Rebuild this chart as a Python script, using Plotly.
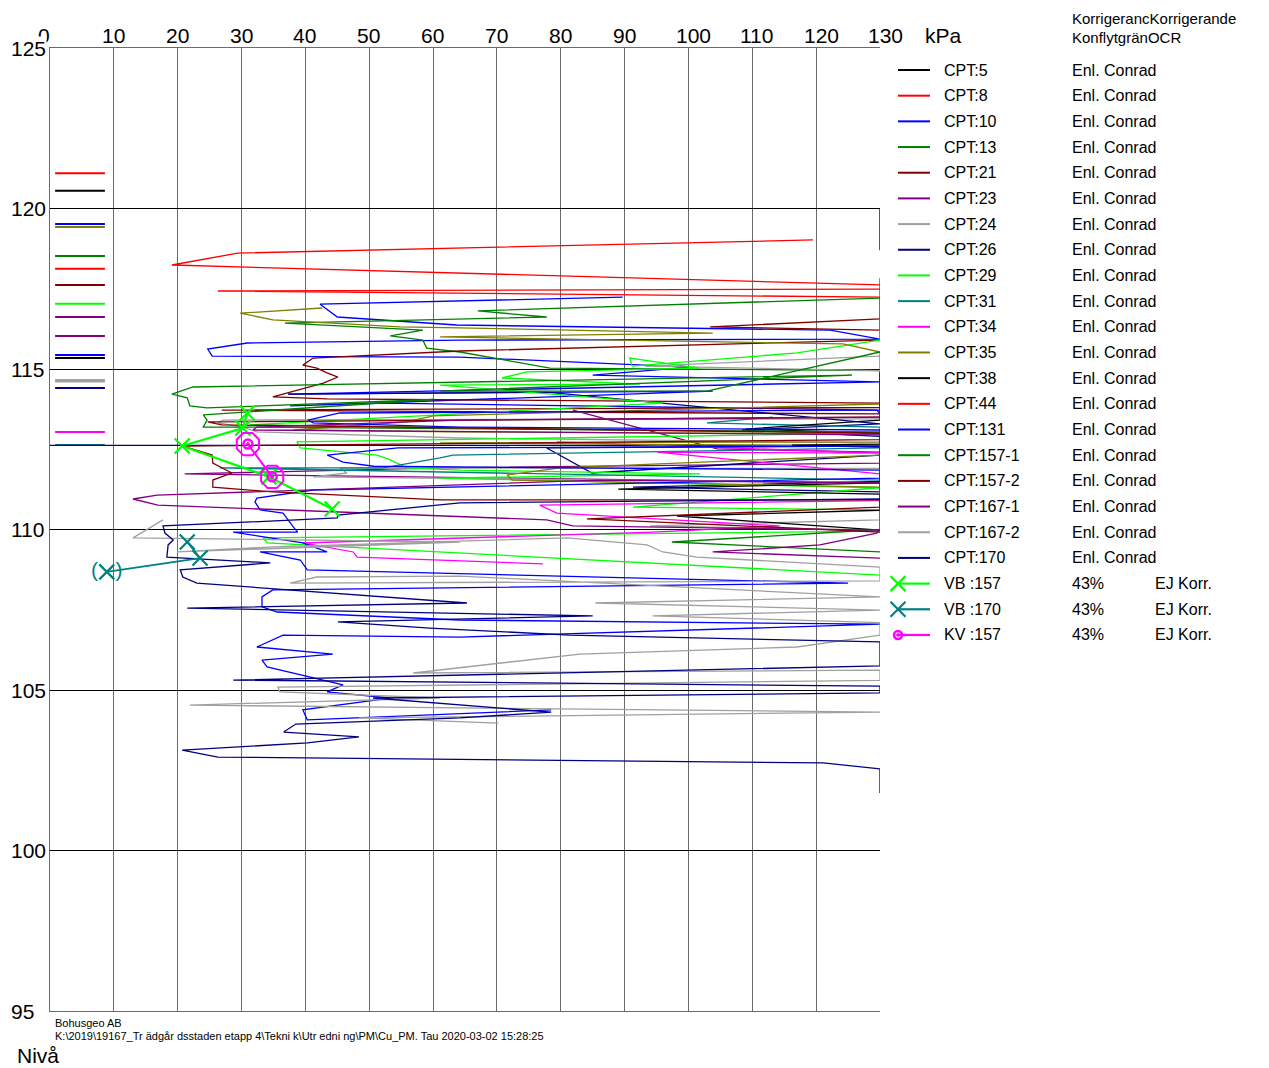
import plotly.graph_objects as go

# ---------------------------------------------------------------
# Figure geometry (pixels)
W, H = 1269, 1068
PLOT_L, PLOT_R, PLOT_T, PLOT_B = 50, 880, 48, 1011
FONT = "Liberation Sans, Arial, sans-serif"

# ---------------------------------------------------------------
# Axes
KPA_TICKS = [0, 10, 20, 30, 40, 50, 60, 70, 80, 90, 100, 110, 120, 130]
NIVA_TICKS = [95, 100, 105, 110, 115, 120, 125]

# ---------------------------------------------------------------
# Colours per sounding
BLACK, RED, BLUE, GREEN = "#000000", "#FF0000", "#0000FF", "#008000"
DKRED, PURPLE, GRAY, NAVY = "#800000", "#800080", "#A0A0A0", "#000080"
LIME, TEAL, MAGENTA, OLIVE = "#00FF00", "#008080", "#FF00FF", "#808000"

# ---------------------------------------------------------------
# Undrained shear strength (kPa) versus level (Nivå), per CPT
cpt5_kpa = [130, 130]
cpt5_niva = [120.0, 118.7]

cpt8_kpa = [119.5, 29.4, 19.1, 130]
cpt8_niva = [119.02, 118.61, 118.24, 117.62]

cpt10_kpa = [89.7, 42.3, 45.0, 63.7, 122.2, 130, 64.2, 30.9, 24.7, 25.4, 64.2, 100.2,
             85.0, 130, 37.3, 103.8, 37.6, 52.2, 129.5, 130]
cpt10_niva = [117.24, 117.02, 116.62, 116.37, 116.21, 115.93, 115.90, 115.81, 115.62,
              115.40, 115.37, 115.06, 114.81, 114.60, 114.22, 114.31, 113.85, 113.94,
              113.72, 113.60]

cpt13_kpa = [130, 130, 67.0, 77.8, 36.8, 58.4, 53.3, 58.4, 59.0, 64.2, 78.3, 130]
cpt13_niva = [117.83, 117.21, 116.81, 116.62, 116.43, 116.21, 116.03, 115.90, 115.65,
              115.53, 115.03, 114.95]

cpt21_kpa = [130, 103.4, 130, 130, 64.2, 41.2, 39.6, 41.8, 43.4, 45.1, 42.8, 34.9, 43.4,
             130, 130, 26.9, 130]
cpt21_niva = [116.56, 116.31, 116.21, 115.90, 115.56, 115.34, 115.12, 115.03, 114.88,
              114.75, 114.56, 114.13, 114.07, 113.94, 113.80, 113.72, 113.60]

cpt23_kpa = [81.9, 104.5, 130, 130, 61.1, 21.1, 130]
cpt23_niva = [113.72, 112.51, 112.41, 112.07, 111.92, 111.73, 111.45]

cpt24_kpa = [130, 93.2, 130, 130, 27.1, 26.3, 28.2, 30.2, 32.4, 64.2, 130, 130, 45.4,
             46.5, 41.2, 130, 130, 94.0, 130]
cpt24_niva = [115.40, 115.09, 114.95, 113.45, 113.41, 113.32, 113.26, 113.19, 113.04,
              112.85, 112.70, 111.90, 111.92, 111.76, 111.64, 111.45, 110.30, 110.11,
              109.98]

cpt26_kpa = [37.3, 64.2, 77.8, 130, 108.4, 130, 130, 77.8, 84.9, 130, 130, 91.3, 130]
cpt26_niva = [114.22, 114.25, 114.28, 113.29, 113.10, 112.90, 112.60, 112.54, 111.76,
              112.32, 111.50, 111.32, 111.17]

cpt29_kpa = [130, 130, 117.0, 91.2, 90.8, 101.8, 74.7, 70.8, 92.4, 61.1, 96.0, 31.3, 130,
             38.7, 39.2, 51.2, 53.3, 55.9, 64.2, 101.8, 61.1, 130, 91.3, 130, 130, 130,
             33.4, 34.0, 130]
cpt29_niva = [117.30, 115.90, 115.50, 115.09, 115.34, 115.03, 114.91, 114.72, 114.53,
              114.50, 113.94, 113.26, 113.00, 112.73, 112.54, 112.32, 112.17, 111.92,
              111.85, 111.73, 111.60, 111.30, 110.70, 110.61, 110.20, 109.95, 109.74,
              109.58, 108.58]

cpt31_kpa = [113.2, 102.9, 130, 130, 63.1, 61.1, 52.2, 26.6, 130, 130]
cpt31_niva = [113.50, 113.32, 113.19, 112.54, 112.32, 112.23, 111.92, 111.92, 111.54,
              111.30]

cpt34_kpa = [79.4, 130, 95.1, 130, 130, 76.7, 79.4, 114.3, 94.4, 39.6, 47.5, 48.1, 77.2]
cpt34_niva = [112.73, 112.38, 112.41, 111.73, 110.90, 110.76, 110.51, 110.11, 109.92,
              109.58, 109.30, 109.14, 108.93]

cpt35_kpa = [42.6, 29.8, 34.9, 54.8, 64.2, 103.8, 61.1, 124.2, 130, 130, 60.0, 55.9, 38.1,
             63.1, 130, 130, 61.1, 130, 130, 79.9, 71.6, 72.4, 130, 130]
cpt35_niva = [116.90, 116.74, 116.53, 116.31, 116.28, 116.12, 116.00, 115.78, 115.53,
              113.91, 113.54, 113.35, 113.10, 113.04, 112.98, 112.73, 112.70, 112.60,
              112.32, 111.92, 111.70, 111.54, 111.32, 111.10]

cpt38_kpa = [130, 130, 108.9, 130, 130, 116.2, 130, 130, 89.0, 130, 130, 98.2, 111.2, 130]
cpt38_niva = [114.90, 113.41, 113.13, 113.00, 112.66, 112.63, 112.57, 111.45, 111.26,
              111.10, 110.60, 110.42, 110.24, 109.98]

cpt44_kpa = [130, 26.3, 130, 130]
cpt44_niva = [117.49, 117.43, 117.24, 116.21]

cpt131_kpa = [130, 45.4, 40.4, 41.2, 64.2, 130, 130, 54.5, 43.4, 45.9, 50.7, 64.2, 130,
              130, 41.2, 32.4, 32.1, 32.9, 36.5, 38.1, 38.8, 28.7, 39.6, 43.4, 32.9, 39.2,
              40.3, 125.0, 34.9, 33.2, 33.2, 35.6, 64.2, 130, 64.2, 36.5, 32.4, 44.3,
              33.2, 34.0, 45.9, 43.4, 53.3, 39.6, 40.3, 78.5]
cpt131_niva = [113.72, 113.63, 113.41, 113.32, 113.19, 113.10, 112.60, 112.54, 112.32,
               112.10, 111.97, 111.95, 111.85, 111.60, 111.23, 110.98, 110.86, 110.61,
               110.51, 110.08, 109.92, 109.92, 109.58, 109.30, 109.30, 109.05, 108.74,
               108.33, 108.12, 107.90, 107.59, 107.43, 107.18, 107.05, 106.65, 106.71,
               106.34, 106.12, 105.93, 105.72, 105.16, 104.94, 104.75, 104.38, 104.07,
               104.38]

cpt157_1_kpa = [130, 102.9, 61.1, 125.6, 22.4, 19.1, 21.5, 21.9, 24.6, 60.0, 24.0, 24.6,
                24.0, 30.2, 130, 130, 97.4, 130]
cpt157_1_niva = [115.53, 114.31, 114.31, 114.81, 114.44, 114.22, 114.10, 113.85, 113.79,
                 114.05, 113.57, 113.41, 113.19, 113.19, 113.04, 110.00, 109.61, 109.30]

cpt157_2_kpa = [130, 24.7, 26.9, 130, 130, 20.8, 25.4, 25.5, 28.5, 25.5, 25.5, 34.9, 61.1,
                130, 130, 84.1, 130]
cpt157_2_niva = [113.50, 113.35, 113.26, 113.00, 112.80, 112.60, 112.32, 112.07, 111.76,
                 111.54, 111.32, 111.17, 110.92, 110.92, 110.70, 110.33, 109.92]

cpt167_1_kpa = [130, 64.2, 32.4, 31.8, 130, 130, 85.7, 16.8, 13.0, 16.9, 77.8, 81.9, 130,
                129.5, 120.6, 103.8, 130]
cpt167_1_niva = [113.50, 113.41, 113.19, 113.10, 112.95, 111.45, 111.54, 111.07, 110.95,
                 110.76, 110.30, 110.11, 109.98, 109.89, 109.52, 109.30, 109.11]

cpt167_2_kpa = [17.7, 13.0, 64.2, 19.9, 34.9, 81.0, 93.5, 96.0, 101.3, 130, 130, 37.6,
                41.8, 64.2, 130, 85.4, 130, 94.4, 130, 130, 117.0, 83.0, 56.9, 130, 130,
                35.7, 36.0, 61.1, 21.9, 130, 48.4, 70.2]
cpt167_2_niva = [110.30, 109.74, 109.61, 109.30, 109.46, 109.74, 109.52, 109.30, 109.14,
                 108.83, 108.40, 108.33, 108.52, 108.55, 107.90, 107.71, 107.49, 107.31,
                 107.10, 106.71, 106.34, 106.12, 105.53, 105.62, 105.30, 105.09, 104.94,
                 104.75, 104.53, 104.31, 104.13, 103.97]

cpt170_kpa = [130, 64.2, 45.1, 45.0, 17.7, 18.0, 19.3, 18.5, 18.3, 23.5, 34.5, 20.4, 20.8,
              23.0, 65.3, 21.5, 85.0, 45.1, 59.5, 81.4, 130, 130, 28.7, 130, 130, 50.6,
              78.5, 64.2, 38.5, 36.6, 48.4, 40.3, 20.7, 26.3, 121.1, 130, 130]
cpt170_niva = [110.95, 110.83, 110.45, 110.36, 110.11, 109.89, 109.67, 109.52, 109.14,
               109.08, 108.96, 108.74, 108.52, 108.33, 107.71, 107.55, 107.31, 107.12,
               106.93, 106.71, 106.50, 105.75, 105.31, 105.12, 104.91, 104.75, 104.31,
               104.13, 103.94, 103.69, 103.54, 103.35, 103.13, 102.91, 102.73, 102.54,
               101.79]
line170_kpa = [0, 130]
line170_niva = [112.62, 112.62]

# Vane tests (VB) and fall-cone tests (KV)
vb157_kpa = [30.9, 30.2, 20.7, 34.3, 44.2]
vb157_niva = [113.63, 113.16, 112.60, 111.64, 110.64]
vb170_kpa = [21.5, 23.5, 8.9]
vb170_niva = [109.61, 109.11, 108.68]
kv157_kpa = [31.0, 34.8]
kv157_niva = [112.66, 111.64]

# Start levels of each sounding (short marks at the left edge)
ground_labels = ["CPT:8", "CPT:5", "CPT:10", "CPT:35", "CPT:13", "CPT:44", "CPT:21",
                 "CPT:29", "CPT:23", "CPT:167-1", "CPT:131", "CPT:38", "CPT:24",
                 "CPT:167-2", "CPT:26", "CPT:34", "CPT:31"]
ground_levels = [121.10, 120.55, 119.52, 119.42, 118.52, 118.12, 117.62, 117.03, 116.62,
                 116.03, 115.44, 115.34, 114.66, 114.61, 114.41, 113.04, 112.63]
GROUND_MARK = [0.8, 8.6]

# Legend table
legend_names = ["CPT:5", "CPT:8", "CPT:10", "CPT:13", "CPT:21", "CPT:23", "CPT:24",
                "CPT:26", "CPT:29", "CPT:31", "CPT:34", "CPT:35", "CPT:38", "CPT:44",
                "CPT:131", "CPT:157-1", "CPT:157-2", "CPT:167-1", "CPT:167-2", "CPT:170",
                "VB :157", "VB :170", "KV :157"]
legend_colors = [BLACK, RED, BLUE, GREEN, DKRED, PURPLE, GRAY, NAVY, LIME, TEAL, MAGENTA,
                 OLIVE, BLACK, RED, BLUE, GREEN, DKRED, PURPLE, GRAY, NAVY, LIME, TEAL,
                 MAGENTA]
legend_col3 = ["Enl. Conrad"] * 20 + ["43%", "43%", "43%"]
legend_col4 = [""] * 20 + ["EJ Korr.", "EJ Korr.", "EJ Korr."]

cpt_series = [
    ("CPT:5", BLACK, cpt5_kpa, cpt5_niva),
    ("CPT:8", RED, cpt8_kpa, cpt8_niva),
    ("CPT:10", BLUE, cpt10_kpa, cpt10_niva),
    ("CPT:13", GREEN, cpt13_kpa, cpt13_niva),
    ("CPT:21", DKRED, cpt21_kpa, cpt21_niva),
    ("CPT:23", PURPLE, cpt23_kpa, cpt23_niva),
    ("CPT:24", GRAY, cpt24_kpa, cpt24_niva),
    ("CPT:26", NAVY, cpt26_kpa, cpt26_niva),
    ("CPT:29", LIME, cpt29_kpa, cpt29_niva),
    ("CPT:31", TEAL, cpt31_kpa, cpt31_niva),
    ("CPT:34", MAGENTA, cpt34_kpa, cpt34_niva),
    ("CPT:35", OLIVE, cpt35_kpa, cpt35_niva),
    ("CPT:38", BLACK, cpt38_kpa, cpt38_niva),
    ("CPT:44", RED, cpt44_kpa, cpt44_niva),
    ("CPT:131", BLUE, cpt131_kpa, cpt131_niva),
    ("CPT:157-1", GREEN, cpt157_1_kpa, cpt157_1_niva),
    ("CPT:157-2", DKRED, cpt157_2_kpa, cpt157_2_niva),
    ("CPT:167-1", PURPLE, cpt167_1_kpa, cpt167_1_niva),
    ("CPT:167-2", GRAY, cpt167_2_kpa, cpt167_2_niva),
    ("CPT:170", NAVY, cpt170_kpa, cpt170_niva),
]
color_of = {name: col for name, col, _, _ in cpt_series}

# ---------------------------------------------------------------
fig = go.Figure()

for name, lvl in zip(ground_labels, ground_levels):
    fig.add_trace(go.Scatter(x=GROUND_MARK, y=[lvl, lvl], mode="lines",
                             line=dict(color=color_of[name], width=2),
                             hoverinfo="skip", showlegend=False))

fig.add_trace(go.Scatter(x=line170_kpa, y=line170_niva, mode="lines",
                         line=dict(color=NAVY, width=1.2), showlegend=False))

for name, col, kpa, niva in cpt_series:
    fig.add_trace(go.Scatter(x=kpa, y=niva, mode="lines", name=name,
                             line=dict(color=col, width=1.3), showlegend=False))

fig.add_trace(go.Scatter(x=vb157_kpa, y=vb157_niva, mode="lines+markers", name="VB :157",
                         line=dict(color=LIME, width=2.2),
                         marker=dict(symbol="x-thin", size=15, color=LIME,
                                     line=dict(color=LIME, width=2.2)),
                         showlegend=False))
fig.add_trace(go.Scatter(x=vb170_kpa, y=vb170_niva, mode="lines+markers", name="VB :170",
                         line=dict(color=TEAL, width=1.8),
                         marker=dict(symbol="x-thin", size=15, color=TEAL,
                                     line=dict(color=TEAL, width=2.2)),
                         showlegend=False))
fig.add_trace(go.Scatter(x=vb170_kpa[-1:], y=vb170_niva[-1:], mode="text",
                         text=["(\u00a0\u00a0\u00a0)"],
                         textfont=dict(color=TEAL, size=21, family=FONT),
                         showlegend=False, hoverinfo="skip"))
fig.add_trace(go.Scatter(x=kv157_kpa, y=kv157_niva, mode="lines+markers", name="KV :157",
                         line=dict(color=MAGENTA, width=2),
                         marker=dict(symbol="circle-open-dot", size=9, color=MAGENTA,
                                     line=dict(color=MAGENTA, width=2.5)),
                         showlegend=False))
fig.add_trace(go.Scatter(x=kv157_kpa, y=kv157_niva, mode="markers",
                         marker=dict(symbol="octagon-open", size=24, color=MAGENTA,
                                     line=dict(color=MAGENTA, width=2)),
                         showlegend=False, hoverinfo="skip"))

# ---------------------------------------------------------------
# Legend drawn as a table to the right of the plot (overlay axes in pixels)
ROW0, ROW_STEP = 70, 25.68
SW_X0, SW_X1 = 898, 930
for i, (nm, col) in enumerate(zip(legend_names, legend_colors)):
    y = ROW0 + i * ROW_STEP
    fig.add_trace(go.Scatter(x=[SW_X0, SW_X1], y=[y, y], mode="lines",
                             line=dict(color=col, width=2 if i < 20 else 2.2),
                             xaxis="x2", yaxis="y2", showlegend=False, hoverinfo="skip"))
    if nm.startswith("VB"):
        fig.add_trace(go.Scatter(x=[SW_X0], y=[y], mode="markers",
                                 marker=dict(symbol="x-thin", size=15, color=col,
                                             line=dict(color=col, width=2.2)),
                                 xaxis="x2", yaxis="y2", showlegend=False, hoverinfo="skip"))
    elif nm.startswith("KV"):
        fig.add_trace(go.Scatter(x=[SW_X0], y=[y], mode="markers",
                                 marker=dict(symbol="circle-open-dot", size=8, color=col,
                                             line=dict(color=col, width=2.5)),
                                 xaxis="x2", yaxis="y2", showlegend=False, hoverinfo="skip"))

annotations = []


def txt(text, px, py, size, xanchor="left", color="black", **kw):
    annotations.append(dict(text=text, x=px / W, y=1 - py / H, xref="paper", yref="paper",
                            xanchor=xanchor, yanchor="middle", showarrow=False,
                            font=dict(family=FONT, size=size, color=color), **kw))


# kPa tick labels above the plot, left-aligned just before each grid line
for t in KPA_TICKS:
    annotations.append(dict(text=str(t), x=t, y=1 - 36 / H, xref="x", yref="paper",
                            xanchor="left", yanchor="middle", showarrow=False,
                            xshift=-14,
                            font=dict(family=FONT, size=21, color="black")))
# Level tick labels, left-aligned in the left margin
for t in NIVA_TICKS:
    annotations.append(dict(text=str(t), x=10 / W, y=t, xref="paper", yref="y",
                            xanchor="left", yanchor="middle", showarrow=False,
                            bgcolor="white" if t == 125 else "rgba(0,0,0,0)",
                            borderpad=0,
                            font=dict(family=FONT, size=21, color="black")))

for i, nm in enumerate(legend_names):
    y = ROW0 + i * ROW_STEP
    txt(nm, 942, y, 16)
    txt(legend_col3[i], 1070, y, 16)
    if legend_col4[i]:
        txt(legend_col4[i], 1153, y, 16)

txt("KorrigerancKorrigerande", 1070, 19, 15)
txt("KonflytgränOCR", 1070, 38, 15)
txt("kPa", 923, 36, 21)
txt("Nivå", 15, 1055, 21)
txt("Bohusgeo AB", 53, 1023, 11)
txt("K:\\2019\\19167_Tr ädgår dsstaden etapp 4\\Tekni k\\Utr edni ng\\PM\\Cu_PM. Tau "
    "2020-03-02 15:28:25", 53, 1036, 11)

fig.update_layout(
    width=W, height=H,
    margin=dict(l=0, r=0, t=0, b=0, pad=0, autoexpand=False),
    paper_bgcolor="white", plot_bgcolor="rgba(0,0,0,0)",
    showlegend=False,
    annotations=annotations,
    xaxis=dict(domain=[PLOT_L / W, PLOT_R / W], range=[0, 130], side="top",
               tickvals=KPA_TICKS, ticks="", showticklabels=False, showgrid=True,
               gridcolor="#6a6a6a", gridwidth=1.4, zeroline=False, showline=True,
               mirror=True, linecolor="#6a6a6a", linewidth=1.4, automargin=False),
    yaxis=dict(domain=[(H - PLOT_B) / H, (H - PLOT_T) / H], range=[95, 125],
               tickvals=NIVA_TICKS, ticks="", showticklabels=False, showgrid=True,
               gridcolor="#000000", gridwidth=1, zeroline=False, showline=True,
               linecolor="#6a6a6a", linewidth=1.4, automargin=False),
    xaxis2=dict(domain=[0, 1], range=[0, W], visible=False, anchor="y2"),
    yaxis2=dict(domain=[0, 1], range=[H, 0], visible=False, anchor="x2"),
)

fig.write_html("out.html")
